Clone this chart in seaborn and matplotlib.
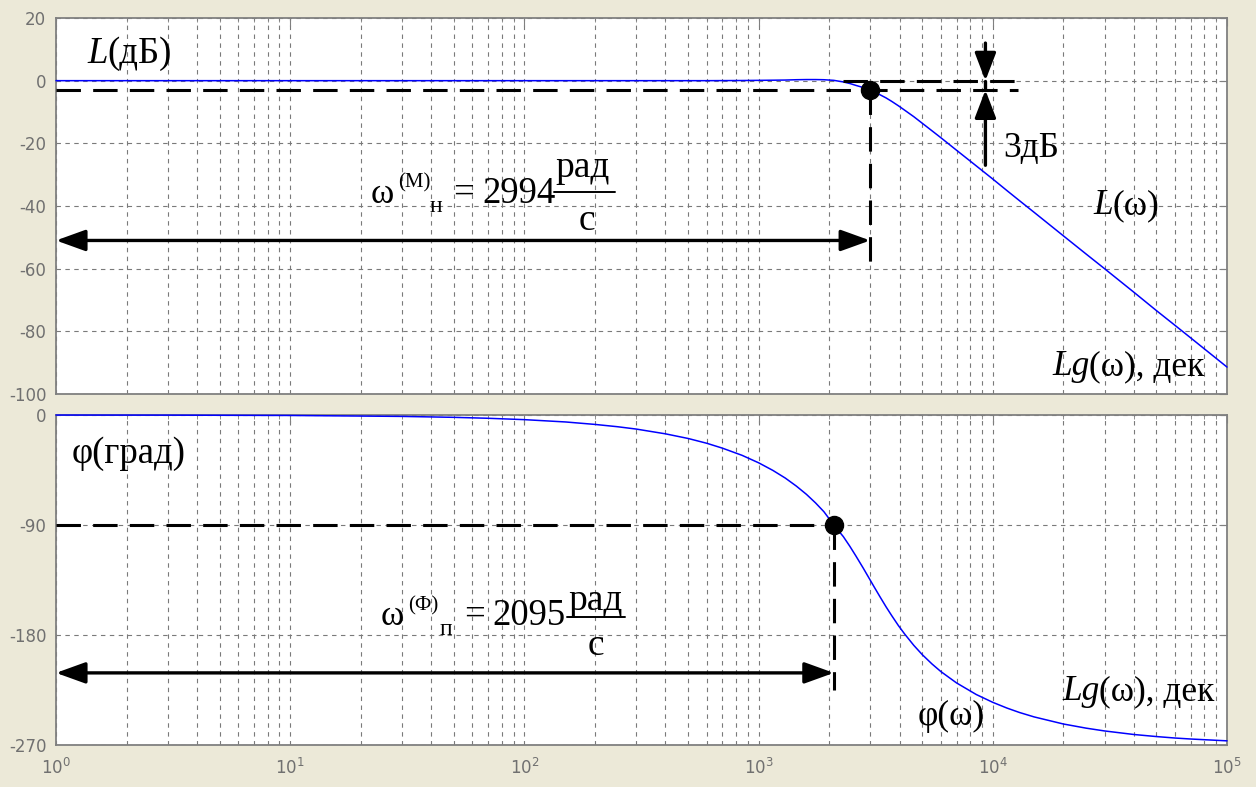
import numpy as np
import matplotlib
matplotlib.use("Agg")
import matplotlib.pyplot as plt
from matplotlib.lines import Line2D
from matplotlib.ticker import LogLocator, FixedLocator, NullFormatter
import seaborn as sns

# ---- frequency response of the filter (Bode plot) ----
omega = [1, 3, 10, 30, 50, 70, 100, 150, 200, 250,
         300, 400, 500, 600, 700, 850, 1000, 1150, 1300, 1450,
         1600, 1750, 1900, 2095, 2300, 2450, 2600, 2800, 2994, 3100,
         3300, 3500, 3700, 3950, 4200, 4600, 5000, 5500, 6000, 7000,
         8500, 10000, 11500, 13000, 15000, 20000, 25000, 30000, 40000, 50000,
         60000, 70000, 100000]
magnitude_db = [0, 0, 0, 0, 0, 0, 0, 0, 0, 0,
                0, 0, 0, 0, 0.02, 0.05, 0.1, 0.15, 0.2, 0.3,
                0.35, 0.35, 0.3, 0.1, -0.4, -0.9, -1.5, -2.2, -3.0, -3.5,
                -4.5, -5.5, -6.6, -8.0, -9.4, -11.5, -13.6, -16.0, -18.2, -22.2,
                -27.2, -31.4, -35.1, -38.3, -42.0, -49.5, -55.3, -60.0, -67.5, -73.4,
                -78.1, -82.1, -91.4]
phase_deg = [-0.04, -0.11, -0.38, -1.15, -1.91, -2.68, -3.8, -5.7, -7.7, -9.6,
             -11.5, -15.4, -19.2, -23.1, -27.1, -33.0, -39.1, -45.3, -51.6, -58.2,
             -64.9, -71.9, -79.1, -90.0, -99.5, -107.3, -115.2, -125.4, -135.0, -140.0,
             -148.8, -156.9, -164.1, -172.2, -179.1, -188.5, -196.1, -203.7, -209.9, -219.2,
             -228.7, -235.1, -239.8, -243.4, -247.0, -252.8, -256.2, -258.5, -261.4, -263.1,
             -264.3, -265.1, -266.6]

mag_ticks = [20, 0, -20, -40, -60, -80, -100]
phase_ticks = [0, -90, -180, -270]

# cut-off points
w_mag = 2994       # rad/s, -3 dB point
l_mag = -3         # dB
w_phase = 2095     # rad/s, -90 deg point
p_phase = -90      # deg

# annotation extents
w_guides_end = 12800
w_3db_arrow = 9300
mag_arrow_level = -51
mag_drop_to = -61
phase_arrow_level = -211
phase_drop_to = -225

W, H = 1256, 787
BG = "#ECE9D8"
SERIF = "Liberation Serif"

sns.set_style("white")
plt.rcParams["font.family"] = ["DejaVu Sans"]
plt.rcParams["mathtext.fontset"] = "dejavusans"
plt.rcParams["axes.unicode_minus"] = False

fig = plt.figure(figsize=(W / 100, H / 100), dpi=100, facecolor=BG)
ax1 = fig.add_axes([56 / W, 1 - 394 / H, 1171 / W, 376 / H])
ax2 = fig.add_axes([56 / W, 1 - 745 / H, 1171 / W, 330 / H])

sns.lineplot(x=omega, y=magnitude_db, ax=ax1, color="#0000FF", lw=1.1,
             sort=False, clip_on=False, zorder=4)
sns.lineplot(x=omega, y=phase_deg, ax=ax2, color="#0000FF", lw=1.1,
             sort=False, clip_on=False, zorder=4)


def style_axes(ax, yticks):
    ax.set_facecolor("white")
    ax.set_xscale("log")
    ax.set_xlim(1, 1e5)
    ax.set_ylim(min(yticks), max(yticks))
    ax.yaxis.set_major_locator(FixedLocator(yticks))
    ax.xaxis.set_major_locator(LogLocator(base=10, numticks=12))
    ax.xaxis.set_minor_locator(LogLocator(base=10, subs=np.arange(2, 10), numticks=100))
    ax.xaxis.set_minor_formatter(NullFormatter())
    ax.grid(True, which="major", axis="both", color="#7a7a7a",
            linestyle=(0, (4, 4)), lw=0.8)
    ax.grid(True, which="minor", axis="x", color="#7a7a7a",
            linestyle=(0, (4, 4)), lw=0.8)
    ax.set_axisbelow(True)
    for s in ax.spines.values():
        s.set_visible(True)
        s.set_color("#808080")
        s.set_linewidth(1.3)
    ax.tick_params(which="both", direction="in", top=True, right=True,
                   colors="#808080", labelcolor="#707070", labelsize=12)
    ax.tick_params(which="major", length=6, pad=7)
    ax.tick_params(which="minor", length=3)
    ax.set_xlabel("")
    ax.set_ylabel("")


style_axes(ax1, mag_ticks)
style_axes(ax2, phase_ticks)
ax1.tick_params(axis="x", labelbottom=False)
ax2.tick_params(axis="x", pad=9)

DASH = dict(color="black", lw=2.2, dashes=(8, 4), zorder=5)
ARROW2 = dict(arrowstyle="<|-|>,head_length=1.8,head_width=0.65",
              mutation_scale=10, lw=2.4, color="black", shrinkA=0, shrinkB=0)
ARROW1 = dict(arrowstyle="-|>,head_length=1.7,head_width=0.65",
              mutation_scale=10, lw=2.4, color="black", shrinkA=0, shrinkB=0)

# ---- magnitude annotations ----
ax1.plot([1, w_guides_end], [l_mag, l_mag], **DASH)
ax1.plot([2300, w_guides_end], [0, 0], **DASH)
ax1.plot([w_mag, w_mag], [l_mag, mag_drop_to], **DASH)
ax1.plot(w_mag, l_mag, "o", color="black", ms=13, zorder=6, clip_on=False)
ax1.annotate("", xy=(w_mag, mag_arrow_level), xytext=(1, mag_arrow_level),
             arrowprops=ARROW2, annotation_clip=False)
ax1.annotate("", xy=(w_3db_arrow, 0), xytext=(w_3db_arrow, 12), arrowprops=ARROW1)
ax1.annotate("", xy=(w_3db_arrow, l_mag), xytext=(w_3db_arrow, -27), arrowprops=ARROW1)
ax1.plot([w_3db_arrow, w_3db_arrow], [0, l_mag], color="black", lw=2.4, zorder=5)

# ---- phase annotations ----
ax2.plot([1, w_phase], [p_phase, p_phase], **DASH)
ax2.plot([w_phase, w_phase], [p_phase, phase_drop_to], **DASH)
ax2.plot(w_phase, p_phase, "o", color="black", ms=13, zorder=6, clip_on=False)
ax2.annotate("", xy=(w_phase, phase_arrow_level), xytext=(1, phase_arrow_level),
             arrowprops=ARROW2, annotation_clip=False)

# ---- text ----
renderer = fig.canvas.get_renderer()


def put(x, y, s, size=25.5, style="normal"):
    return fig.text(x / W, 1 - y / H, s, fontsize=size, fontstyle=style,
                    family=SERIF, va="baseline", ha="left", color="black")


def runs(x, y, parts, size=25.5):
    for s, style in parts:
        t = put(x, y, s, size, style)
        x += t.get_window_extent(renderer).width


runs(87, 63, [("L", "italic"), ("(дБ)", "normal")], size=26.5)
runs(72, 463, [("φ(град)", "normal")], size=26.5)
runs(1093, 214, [("L", "italic"), ("(ω)", "normal")])
runs(1052, 375, [("Lg", "italic"), ("(ω), дек", "normal")])
runs(1062, 700, [("Lg", "italic"), ("(ω), дек", "normal")])
runs(918, 725, [("φ(ω)", "normal")])
runs(1003, 157, [("3дБ", "normal")])

# magnitude cut-off frequency
put(371, 203, "ω", size=25.5)
put(398, 187, "(М)", size=15)
put(430, 212, "н", size=17)
put(453, 203, "=", size=26.5)
put(482, 203, "2994", size=26.5)
put(555, 177, "рад", size=27)
put(579, 230, "с", size=27)
fig.add_artist(Line2D([554 / W, 615 / W], [1 - 192 / H] * 2, color="black", lw=1.4))

# phase cut-off frequency
put(381, 625, "ω", size=25.5)
put(408, 610, "(Ф)", size=15)
put(440, 635, "п", size=17)
put(464, 625, "=", size=26.5)
put(492, 625, "2095", size=26.5)
put(568, 610, "рад", size=27)
put(588, 655, "с", size=27)
fig.add_artist(Line2D([567 / W, 625 / W], [1 - 617 / H] * 2, color="black", lw=1.4))

fig.savefig("out.png", dpi=100, facecolor=BG)
